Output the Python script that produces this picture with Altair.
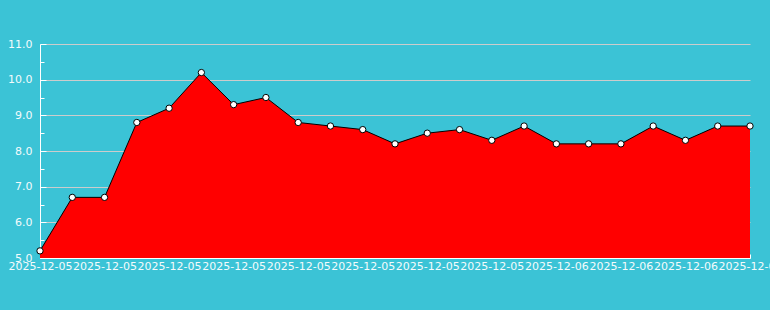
import altair as alt
import pandas as pd

values = [5.2, 6.7, 6.7, 8.8, 9.2, 10.2, 9.3, 9.5, 8.8, 8.7, 8.6, 8.2,
          8.5, 8.6, 8.3, 8.7, 8.2, 8.2, 8.2, 8.7, 8.3, 8.7, 8.7]
dates = ["2025-12-05"] * 16 + ["2025-12-06"] * 7
y_major = [5, 6, 7, 8, 9, 10, 11]
y_minor = [5.5, 6.5, 7.5, 8.5, 9.5, 10.5]

idx = list(range(len(values)))
df = pd.DataFrame({"i": idx, "v": values, "d": dates})
x_major = idx[::2]
x_minor = idx[1::2]

label_arr = "[" + ",".join("'%s'" % d for d in dates) + "]"

FONT = "DejaVu Sans"
WHITE = "#ffffff"
LABEL = "#f4fbfc"

xscale = alt.Scale(type="point", padding=0)
yscale = alt.Scale(domain=[5, 11], nice=False, zero=False)

x_main = alt.X("i:O", scale=xscale, title=None, axis=alt.Axis(
    values=x_major, labelExpr=label_arr + "[datum.value]", labelAngle=0,
    labelOverlap=False, labelFont=FONT, labelFontSize=11, labelFontWeight="normal",
    labelColor=LABEL, labelPadding=6, tickSize=alt.ExprRef(expr="-4"), tickColor=WHITE,
    domainColor=WHITE, grid=False, orient="bottom"))
y_main = alt.Y("v:Q", scale=yscale, title=None, stack=None, axis=alt.Axis(
    values=y_major, format=".1f", labelFont=FONT, labelFontSize=11,
    labelFontWeight="normal", labelColor=LABEL, labelPadding=14,
    tickSize=alt.ExprRef(expr="-6"),
    tickColor=WHITE, domainColor=WHITE, grid=True, gridColor="#cccccc",
    orient="left"))

base = alt.Chart(df)
area = base.mark_area(color="#ff0000", opacity=1, fillOpacity=1,
                      line={"color": "black", "strokeWidth": 1}).encode(
    x=x_main, y=y_main, y2=alt.datum(5))
pts = base.mark_point(filled=True, fill="white", stroke="black", strokeWidth=1,
                      size=40, opacity=1, shape="circle").encode(
    x=alt.X("i:O", scale=xscale, axis=None),
    y=alt.Y("v:Q", scale=yscale, axis=None))

x_min = alt.X("i:O", scale=xscale, title=None, axis=alt.Axis(
    values=x_minor, labels=False, domain=False, grid=False,
    tickSize=alt.ExprRef(expr="-2"), tickColor=WHITE, orient="bottom"))
y_min = alt.Y("v:Q", scale=yscale, title=None, axis=alt.Axis(
    values=y_minor, labels=False, domain=False, grid=False,
    tickSize=alt.ExprRef(expr="-4"), tickColor=WHITE, orient="left"))
minor = base.mark_point(opacity=0).encode(x=x_min, y=y_min)

chart = alt.layer(area, minor, pts).resolve_axis(x="independent", y="independent").properties(
    width=710, height=214,
    autosize=alt.AutoSizeParams(type="none"),
    padding={"left": 40, "top": 44, "right": 20, "bottom": 52},
).configure(background="#3bc3d6").configure_view(strokeWidth=0)

chart.save("out.html", embed_options={"renderer": "svg", "actions": False})
